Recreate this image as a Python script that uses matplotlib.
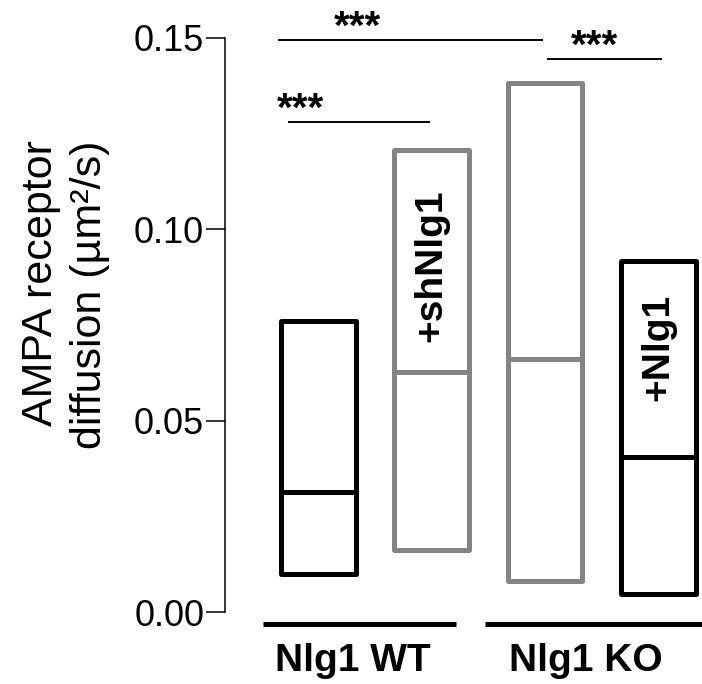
import matplotlib
matplotlib.use("Agg")
import matplotlib.pyplot as plt

plt.rcParams['font.family'] = ['Liberation Sans', 'DejaVu Sans']

# floating boxes (min / median / max), um^2/s
positions = [1, 2, 3, 4]
box_bottom = [0.0099, 0.0162, 0.0081, 0.0047]
box_top = [0.0760, 0.1207, 0.1382, 0.0917]
box_median = [0.0314, 0.0627, 0.0661, 0.0405]
box_colors = ['black', '#848484', '#848484', 'black']
box_labels = ['', '+shNlg1', '', '+Nlg1']
box_label_y = [0, 0.0904, 0, 0.0692]

# significance bars
sig_x0 = [0.656, 3.026, 0.744]
sig_x1 = [2.974, 4.022, 1.978]
sig_y = [0.1494, 0.1445, 0.1280]
star_x = [1.344, 3.432, 0.841]

# genotype groups under the axis
group_names = ['Nlg1 WT', 'Nlg1 KO']
group_x0 = [0.515, 2.471]
group_x1 = [2.216, 4.6]
group_label_x = [1.308, 3.361]

yticks = [0.00, 0.05, 0.10, 0.15]

fig = plt.figure(figsize=(7.02, 6.84), dpi=100)
ax = fig.add_axes([225 / 702, 72 / 684, 477 / 702, 612 / 684])

width = 0.66
heights = [t - b for t, b in zip(box_top, box_bottom)]
ax.bar(positions, heights, bottom=box_bottom, width=width, fill=False,
       edgecolor=box_colors, linewidth=3.6, joinstyle='round')
for x, m, c in zip(positions, box_median, box_colors):
    ax.hlines(m, x - width / 2, x + width / 2, color=c, linewidth=3.6)

for x, y, s in zip(positions, box_label_y, box_labels):
    if s:
        ax.text(x, y, s, rotation=90, ha='center', va='center',
                fontsize=28, fontweight='bold')

for x0, x1, y, sx in zip(sig_x0, sig_x1, sig_y, star_x):
    ax.plot([x0, x1], [y, y], color='black', linewidth=1.4, clip_on=False)
    ax.text(sx, y + 0.0003, '***', ha='center', va='baseline', fontsize=29,
            fontweight='bold')

for name, x0, x1, lx in zip(group_names, group_x0, group_x1, group_label_x):
    ax.plot([x0, x1], [-0.0031, -0.0031], color='black', linewidth=3.6,
            clip_on=False, solid_capstyle='butt')
    ax.text(lx, -0.0154, name, ha='center', va='baseline', fontsize=28,
            fontweight='bold')

ax.set_xlim(0.18, 4.383)
ax.set_ylim(0, 0.1599)
ax.set_yticks(yticks)
ax.set_yticklabels(['%.2f' % v for v in yticks])
ax.tick_params(axis='y', labelsize=26, length=14, width=1.1, pad=1)
ax.set_xticks([])
for side in ['top', 'right', 'bottom']:
    ax.spines[side].set_visible(False)
ax.spines['left'].set_linewidth(1.1)
ax.spines['left'].set_bounds(0, 0.15)
ax.patch.set_alpha(0)

fig.text(0.093, 0.569, 'AMPA receptor\ndiffusion (\u00b5m\u00b2/s)', rotation=90,
         ha='center', va='center', multialignment='right', fontsize=31,
         linespacing=1.3)

fig.savefig('out.png', dpi=100)
